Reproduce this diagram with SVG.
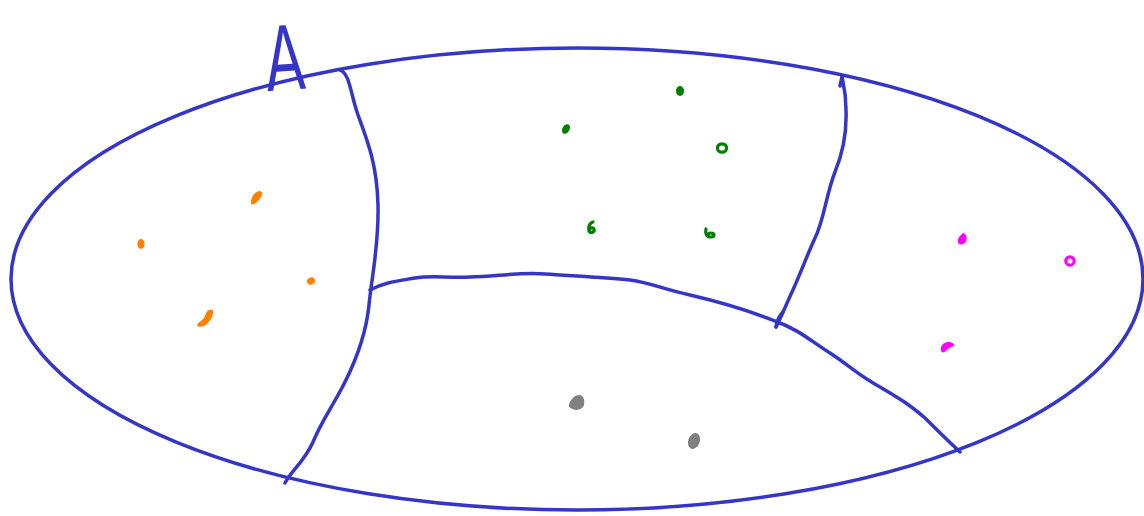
<svg xmlns="http://www.w3.org/2000/svg" width="1144" height="516" viewBox="0 0 1144 516">
<style>
.ln{fill:none;stroke:#3535c8;stroke-width:3.5;stroke-linecap:round;stroke-linejoin:round}
.o{fill:#ff8000}.g{fill:#008000}.m{fill:#ff00ff}.k{fill:#808080}
.ro{fill:none;stroke-width:3.2;stroke-linecap:round}
</style>
<rect width="1144" height="516" fill="#ffffff"/>
<g id="boundary">
<ellipse class="ln" cx="577" cy="279" rx="566" ry="231"/>
</g>
<g id="label-A">
<text x="0" y="0" transform="translate(287,90) rotate(-4) scale(0.62,1)" font-family="Liberation Sans, sans-serif" font-size="94" fill="#3535c8" text-anchor="middle">A</text>
</g>
<g id="connectors">
<path class="ln" d="M340,70 C350,74 350,92 358,115 C368,142 377,165 378,205 C379,245 372,275 369,305 C366,335 356,360 345,382 C333,406 322,420 313,442 C304,462 292,470 285,483"/>
<path class="ln" d="M370,290 C385,282 398,281 415,278 C432,275 445,278 470,277 C495,277 515,272 545,274 C575,276 605,277 630,280 C652,283 662,289 690,295 C720,302 745,309 775,321 C800,330 812,342 830,353 C850,366 858,375 880,387 C902,400 910,405 925,418 C935,428 945,438 960,452"/>
<path class="ln" d="M842,77 C843,82 846,92 846,110 C847,135 842,155 835,172 C826,195 824,220 815,238 C805,260 800,275 792,292 C786,305 782,315 776,327"/>
<path class="ln" d="M840,86 L842,77"/>
<path class="ln" d="M776,327 C777,320 780,315 783,312"/>
</g>
<g id="region-left">
<g id="o1"><path class="o" d="M251,203 C251,197 255,191 260,191 C264,192 262,197 258,201 C255,204 252,206 251,203Z"/></g>
<g id="o2"><ellipse class="o" cx="141" cy="244" rx="3.6" ry="5"/></g>
<g id="o3"><ellipse class="o" cx="311" cy="281" rx="4.2" ry="3.4" transform="rotate(-30 311 281)"/></g>
<g id="o4"><path class="o" d="M197,325 C199,321 203,321 205,316 C206,312 209,308 213,310 C214,315 211,320 207,324 C203,327 198,328 197,325Z"/></g>
</g>
<g id="region-top">
<g id="g1"><ellipse class="g" cx="680" cy="91" rx="4" ry="5"/></g>
<g id="g2"><ellipse class="g" cx="566" cy="129" rx="3.5" ry="5.2" transform="rotate(30 566 129)"/></g>
<g id="g3"><ellipse class="ro" stroke="#008000" cx="722" cy="148" rx="4.6" ry="4.2"/></g>
<g id="g4"><path class="ro" stroke="#008000" d="M593,222 C589,223 588,228 589,231 C591,234 595,232 594,229 C593,227 590,228 590,229"/></g>
<g id="g5"><path class="ro" stroke="#008000" d="M706,229 C705,233 706,237 711,237 C715,237 715,233 711,233 C709,233 708,234 708,235"/></g>
</g>
<g id="region-right">
<g id="m1"><path class="m" d="M958,242 C957,238 961,235 963,233 C967,234 968,240 965,243 C962,245 958,245 958,242Z"/></g>
<g id="m2"><ellipse class="ro" stroke="#ff00ff" cx="1070" cy="261" rx="4.2" ry="4.2"/></g>
<g id="m3"><path class="m" d="M941,350 C940,346 944,342 948,342 C952,342 955,344 954,346 C951,347 948,348 946,351 C944,353 941,353 941,350Z"/></g>
</g>
<g id="region-bottom">
<g id="k1"><path class="k" d="M569,405 C570,400 574,395 580,395 C584,396 585,401 584,405 C583,409 578,410 575,410 C572,409 568,407 569,405Z"/></g>
<g id="k2"><ellipse class="k" cx="694" cy="441" rx="5.8" ry="8.2" transform="rotate(20 694 441)"/></g>
</g>
</svg>
